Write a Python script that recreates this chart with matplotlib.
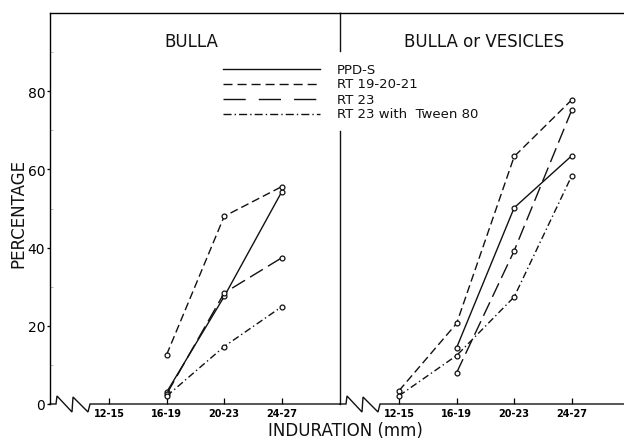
import numpy as np
import matplotlib
matplotlib.use('Agg')
import matplotlib.pyplot as plt
from matplotlib.lines import Line2D

plt.rcParams['lines.scale_dashes'] = False
plt.rcParams['font.family'] = 'DejaVu Sans'

categories = ['12-15', '16-19', '20-23', '24-27']
series_names = ['PPD-S', 'RT 19-20-21', 'RT 23', 'RT 23 with  Tween 80']

# percentages per induration class, nan where no point was plotted
ppd_bulla = [np.nan, 3.0, 27.5, 54.3]
rt19_bulla = [np.nan, 12.6, 48.0, 55.6]
rt23_bulla = [np.nan, 2.5, 28.4, 37.4]
tween_bulla = [np.nan, 2.0, 14.7, 24.9]

ppd_vesic = [np.nan, 14.4, 50.2, 63.5]
rt19_vesic = [3.4, 20.6, 63.3, 77.8]
rt23_vesic = [np.nan, 8.0, 39.2, 75.2]
tween_vesic = [2.1, 12.4, 27.4, 58.4]

W, H = 624, 439
INK = '#111111'
styles = ['-', (0, (5.8, 2.9)), (0, (10.8, 4.3)), (0, (5.0, 2.2, 1.0, 2.2))]
key_styles = ['-', (0, (6.5, 3.6)), (0, (16, 9.4)), (0, (5.8, 2.2, 1.0, 2.2))]

fig = plt.figure(figsize=(W / 100, H / 100), dpi=100)

def px_box(x0, x1, ytop, ybot):
    return [x0 / W, 1 - ybot / H, (x1 - x0) / W, (ybot - ytop) / H]

axL = fig.add_axes(px_box(50, 340, 14, 405))
axR = fig.add_axes(px_box(340, 624, 14, 405))

XS = 57.6   # px per category step
YS = 3.91   # px per percent
axL.set_xlim((50 - 109) / XS, (340 - 109) / XS)
axR.set_xlim((340 - 399) / XS, (624 - 399) / XS)

x = np.arange(len(categories))
for ax, data in ((axL, [ppd_bulla, rt19_bulla, rt23_bulla, tween_bulla]),
                 (axR, [ppd_vesic, rt19_vesic, rt23_vesic, tween_vesic])):
    ax.set_ylim(0, 100)
    for vals, ls in zip(data, styles):
        ax.plot(x, vals, linestyle=ls, color=INK, lw=1.0, marker='o', ms=3.5,
                mfc='white', mec=INK, mew=0.9, clip_on=False, zorder=3)
    for s in ('right', 'bottom'):
        ax.spines[s].set_visible(False)
    ax.spines['top'].set_linewidth(1.0)
    ax.set_xticks(x)
    ax.set_xticklabels(categories, fontsize=7, fontweight='bold')
    ax.tick_params(axis='x', direction='in', length=4, width=0.9, pad=3)

    # broken baseline with a zigzag next to the vertical line
    x0 = ax.get_xlim()[0]
    zig = [(0, 0), (6, 0), (7, 8), (22, -8), (23, 7), (38, -8), (40, 0)]
    zx = [x0 + dx / XS for dx, dy in zig] + [ax.get_xlim()[1]]
    zy = [dy / YS for dx, dy in zig] + [0]
    ax.plot(zx, zy, color=INK, lw=1.0, clip_on=False, solid_joinstyle='miter')

axL.spines['left'].set_linewidth(1.0)
axL.set_yticks([0, 20, 40, 60, 80])
axL.set_yticklabels(['0', '20', '40', '60', '80'], fontsize=10)
axL.set_yticks([10, 30, 50, 70, 90], minor=True)
axL.tick_params(axis='y', which='major', direction='out', length=2.5, width=0.9, pad=1)
axL.tick_params(axis='y', which='minor', direction='in', length=2.5, width=0.5, color='#999999')

axR.spines['left'].set_visible(False)
axR.set_yticks([])
# panel divider, interrupted where the key runs across it
xr0 = axR.get_xlim()[0]
axR.axvline(xr0, ymin=0, ymax=(405 - 132) / 391, color=INK, lw=1.0, clip_on=False)
axR.axvline(xr0, ymin=(405 - 52) / 391, ymax=1, color=INK, lw=1.0, clip_on=False)

# key
for i, (name, ls) in enumerate(zip(series_names, key_styles)):
    yk = 1 - (70 + 15 * i) / H
    fig.add_artist(Line2D([223 / W, 320 / W], [yk, yk], transform=fig.transFigure,
                          linestyle=ls, color=INK, lw=1.0))
    fig.text(337 / W, yk, name, fontsize=9.5, ha='left', va='center', color=INK)

fig.text(191 / W, 1 - 42 / H, 'BULLA', fontsize=12, ha='center', va='center', color=INK)
fig.text(484 / W, 1 - 42 / H, 'BULLA or VESICLES', fontsize=12, ha='center', va='center', color=INK)
fig.text(18 / W, 1 - 213 / H, 'PERCENTAGE', fontsize=12, rotation=90, ha='center', va='center', color=INK)
fig.text(345 / W, 1 - 431 / H, 'INDURATION (mm)', fontsize=12, ha='center', va='center', color=INK)

fig.savefig('out.png', dpi=100)
